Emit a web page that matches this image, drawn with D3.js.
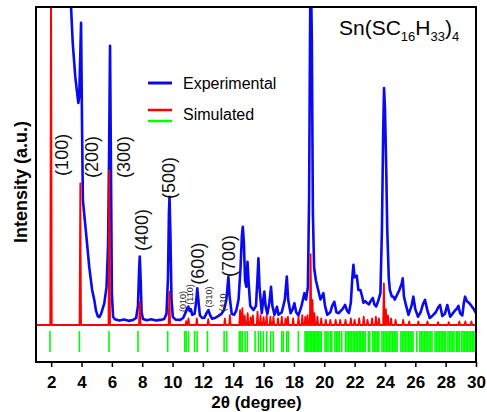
<!DOCTYPE html>
<html><head><meta charset="utf-8">
<script src="https://cdn.jsdelivr.net/npm/d3@7"></script>
<style>
html,body{margin:0;padding:0;background:#fff;}
svg{display:block;font-family:"Liberation Sans",Arial,sans-serif;}
</style></head>
<body>
<svg id="c" width="487" height="412"></svg>
<script>
// ---------- data ----------
const xTicks = [2,4,6,8,10,12,14,16,18,20,22,24,26,28,30];

// Experimental pattern: [2theta, intensity]
const experimental = [
 [3.20,112],[3.31,100],[3.42,88.7],[3.59,78],[3.79,69.8],[3.85,71.7],[3.97,95],[4.04,60],[4.09,39.3],
 [4.30,28.9],[4.51,18.2],[4.70,11],[4.84,7.9],[4.95,4.6],[5.07,2.8],[5.17,2.5],[5.28,3.4],[5.36,4.6],
 [5.50,6.8],[5.65,12],[5.75,25],[5.82,55],[5.88,87.8],[5.94,50],[6.00,10],[6.08,2.6],[6.20,1.8],
 [6.50,1.4],[6.80,1.7],[7.10,1.3],[7.40,1.6],[7.60,2.2],[7.72,6],[7.80,18],[7.84,21.5],[7.90,14],
 [7.96,4],[8.05,1.9],[8.30,1.5],[8.60,1.8],[8.90,1.4],[9.20,1.6],[9.45,1.9],[9.60,3.5],[9.70,15],
 [9.76,35],[9.80,40.3],[9.86,28],[9.93,8],[10.02,2.5],[10.20,1.7],[10.50,1.6],[10.70,2.2],[10.85,3.8],
 [10.96,5.2],[11.04,5.8],[11.12,4.4],[11.20,5.0],[11.30,3.2],[11.45,3.5],[11.55,7],[11.63,11.5],
 [11.70,8],[11.80,3.0],[11.95,2.2],[12.10,2.3],[12.25,3.8],[12.36,4.7],[12.47,3.2],[12.60,2.0],
 [12.80,2.2],[13.00,2.8],[13.20,3.4],[13.40,4.8],[13.55,8],[13.68,15.2],[13.76,9],[13.90,3.5],
 [14.05,3.2],[14.20,4.5],[14.35,8],[14.48,18],[14.57,28],[14.63,30.9],[14.70,26],[14.78,14],
 [14.86,12],[14.94,19.9],[15.02,13],[15.12,6],[15.33,4.7],[15.50,6],[15.60,15],[15.66,21],
 [15.73,12],[15.88,3.7],[15.98,8],[16.05,10.5],[16.13,6],[16.25,3.5],[16.38,7],[16.49,12],
 [16.58,6],[16.72,3.2],[16.88,5.7],[16.98,3.2],[17.20,4],[17.40,8],[17.53,15.2],[17.62,8],
 [17.78,3.7],[17.92,5],[18.03,6.8],[18.15,4],[18.30,3],[18.50,6],[18.69,10],[18.80,8],[18.92,12],
 [19.00,40],[19.06,90],[19.10,115],[19.18,90],[19.25,35],[19.33,18],[19.45,14],[19.60,11],
 [19.75,8],[19.94,10],[20.05,6],[20.20,3.2],[20.40,4],[20.52,6],[20.66,7.3],[20.80,4],[20.95,3.7],
 [21.10,4.5],[21.20,5],[21.37,6.3],[21.50,4.5],[21.62,3.8],[21.75,7],[21.85,15],[21.92,18.9],
 [22.00,15],[22.14,15.5],[22.25,11],[22.38,11],[22.50,8.9],[22.58,7],[22.70,7.5],[22.80,7],
 [22.95,6.5],[23.05,7.5],[23.20,8.5],[23.30,6.5],[23.42,5.8],[23.55,7.5],[23.70,10],[23.80,30],
 [23.88,60],[23.94,74.5],[24.00,68],[24.08,50],[24.15,30],[24.25,15],[24.32,11],[24.45,9],
 [24.55,8.9],[24.65,8],[24.80,9.5],[24.95,11],[25.10,13],[25.17,14.7],[25.25,9],[25.38,6.3],
 [25.55,3.2],[25.75,6],[25.87,8.9],[26.00,5],[26.18,2.6],[26.35,4],[26.50,6.5],[26.64,7.9],
 [26.80,4.5],[26.95,2.2],[27.15,3],[27.35,4],[27.50,5.5],[27.63,6.3],[27.78,2.8],[27.95,3.5],
 [28.11,6.3],[28.30,2.6],[28.45,3.5],[28.60,4.5],[28.72,5],[28.84,6],[28.95,3.7],[29.10,3],
 [29.20,7],[29.28,8.9],[29.40,7.5],[29.55,6.9],[29.70,6],[29.85,5],[30.00,3.7]
];

// Simulated pattern peaks: [2theta, intensity]
const simulatedPeaks = [
 [1.99,115],[3.92,44.5],[5.83,48.7],[7.84,7.3],[9.79,10.5],[10.90,1.2],[11.05,2.1],[11.60,2.1],
 [12.35,1.8],[13.45,2.0],[13.78,3.1],[14.45,4.7],[14.60,5.3],[14.75,3.0],[14.95,3.7],[15.15,2.5],
 [15.30,3.0],[15.60,4.2],[15.80,3.0],[16.00,2.5],[16.20,3.1],[16.45,2.6],[16.65,2.6],[16.95,2.1],
 [17.20,2.6],[17.45,2.1],[17.60,2.6],[17.95,2.1],[18.30,2.6],[18.55,3.1],[18.75,2.6],[18.90,3.1],
 [19.10,22.3],[19.22,7.9],[19.35,3.7],[19.55,2.6],[19.80,2.1],[20.10,1.6],[20.40,1.6],[20.75,1.6],
 [21.05,1.6],[21.40,1.6],[21.75,2.1],[22.00,1.6],[22.30,2.1],[22.60,2.6],[22.85,1.6],[23.15,2.1],
 [23.40,2.6],[23.60,2.1],[23.93,13.1],[24.06,5.0],[24.20,3.0],[24.40,2.1],[24.70,1.6],[25.20,1.6],
 [25.60,1.1],[26.20,1.1],[26.80,1.1],[27.50,0.9],[28.20,0.9],[28.90,1.1],[29.30,1.1],[29.70,1.1]
];

// Reflection positions (green ticks)
const reflections = [
 1.92,3.86,5.81,7.72,9.68,10.80,10.90,11.05,11.45,11.62,12.30,13.40,13.57,
 14.40,14.50,14.60,14.78,14.93,15.44,15.66,15.81,15.99,16.21,16.47,16.64,17.20,17.30,17.53,17.63,18.29,
 18.73,18.82,18.91,19.00,19.09,19.18,19.27,19.36,19.45,19.54,19.63,19.72,19.81,
 20.05,20.15,20.25,20.40,20.50,20.70,20.80,20.90,21.00,21.15,
 21.40,21.50,21.60,21.70,21.80,21.90,22.00,22.10,22.20,22.30,22.40,22.50,22.60,22.70,
 22.90,23.00,23.20,23.30,23.40,23.50,23.60,23.80,23.90,24.00,24.10,24.20,24.30,24.40,
 24.50,24.60,24.70,24.80,25.05,25.15,25.25,25.35,25.45,25.55,25.65,25.75,25.85,
 26.10,26.30,26.40,26.50,26.60,26.70,26.80,26.90,27.00,27.10,27.30,27.40,27.50,27.60,
 27.70,27.80,27.90,28.00,28.15,28.25,28.35,28.45,28.55,28.70,28.80,28.90,29.05,29.15,
 29.25,29.35,29.45,29.55,29.65,29.75,29.85,29.95
];

// Peak labels: [text, 2theta, intensity]
const bigLabels = [
 ["(100)",2.71,53.5],["(200)",4.66,52.8],["(300)",6.80,52.8],["(400)",7.95,29.9],
 ["(500)",9.73,46.2],["(600)",11.68,19.3],["(700)",13.72,21.7]
];
const smallLabels = [
 ["(010)",10.66,7.4],["(110)",11.15,9.6],["(310)",12.37,8.8],["(410",13.29,7.1]
];
const legendItems = ["Experimental","Simulated"];

// ---------- drawing ----------
const svg = d3.select("#c");
const L=36,R=476,T=7,B=362;
const x = d3.scaleLinear().domain([1,30]).range([L,R]);
const y = d3.scaleLinear().domain([-11.64,100]).range([B,T]);

svg.append("defs").append("clipPath").attr("id","clip")
  .append("rect").attr("x",L).attr("y",T).attr("width",R-L).attr("height",B-T);

const g = svg.append("g").attr("clip-path","url(#clip)");

// reflection ticks
g.append("g").selectAll("line").data(reflections).join("line")
  .attr("x1",d=>x(d)).attr("x2",d=>x(d))
  .attr("y1",y(-1.9)).attr("y2",y(-8.5))
  .attr("stroke","#00ff00").attr("stroke-width",1.6);

// labels (under curves)
svg.append("g").selectAll("text").data(bigLabels).join("text")
  .attr("transform",d=>`translate(${x(d[1])},${y(d[2])}) rotate(-90)`)
  .attr("text-anchor","middle").attr("dy","0.35em")
  .style("font-size","18px").attr("fill","#111").text(d=>d[0]);
svg.append("g").selectAll("text").data(smallLabels).join("text")
  .attr("transform",d=>`translate(${x(d[1])},${y(d[2])}) rotate(-90)`)
  .attr("text-anchor","middle").attr("dy","0.35em")
  .style("font-size","9px").attr("fill","#222").text(d=>d[0]);

// experimental
const line = d3.line().x(d=>x(d[0])).y(d=>y(d[1]));
g.append("path").datum(experimental).attr("d",line)
  .attr("fill","none").attr("stroke","#0a0aee").attr("stroke-width",2.6)
  .attr("stroke-linejoin","round");

// simulated: baseline through narrow peaks
const simPts = [[1,0]];
simulatedPeaks.forEach(p=>{ simPts.push([p[0]-0.05,0],[p[0],p[1]],[p[0]+0.05,0]); });
simPts.push([30,0]);
g.append("path").datum(simPts).attr("d",line)
  .attr("fill","none").attr("stroke","#ff0000").attr("stroke-width",1.8)
  .attr("stroke-linejoin","round");

// frame
svg.append("rect").attr("x",L).attr("y",T).attr("width",R-L).attr("height",B-T)
  .attr("fill","none").attr("stroke","#000").attr("stroke-width",2);

// x axis
const ax = svg.append("g").attr("transform",`translate(0,${B})`)
  .call(d3.axisBottom(x).tickValues(xTicks).tickFormat(d3.format("d")).tickSize(5).tickPadding(9));
ax.select(".domain").remove();
ax.selectAll(".tick line").attr("stroke","#000").attr("stroke-width",1.5);
ax.selectAll("text").style("font-size","17px").style("font-weight","bold")
  .style("font-family","'Liberation Sans',Arial,sans-serif").attr("fill","#000");

svg.append("text").attr("x",256.5).attr("y",408).attr("text-anchor","middle")
  .style("font-size","17px").style("font-weight","bold").text("2θ (degree)");
svg.append("text").attr("transform","translate(27,182) rotate(-90)").attr("text-anchor","middle")
  .style("font-size","18px").style("font-weight","bold").text("Intensity (a.u.)");

// legend
const lg = svg.append("g");
lg.append("line").attr("x1",148).attr("x2",172).attr("y1",83).attr("y2",83)
  .attr("stroke","#0a0aee").attr("stroke-width",3);
lg.append("text").attr("x",183).attr("y",89).style("font-size","16px").text(legendItems[0]);
lg.append("line").attr("x1",148).attr("x2",172).attr("y1",110).attr("y2",110)
  .attr("stroke","#ff0000").attr("stroke-width",2.5);
lg.append("line").attr("x1",148).attr("x2",172).attr("y1",121).attr("y2",121)
  .attr("stroke","#00ff00").attr("stroke-width",2.5);
lg.append("text").attr("x",183).attr("y",120).style("font-size","16px").text(legendItems[1]);

// title
const tt = svg.append("text").attr("x",339).attr("y",35).style("font-size","21px");
tt.append("tspan").text("Sn(SC");
tt.append("tspan").attr("dy",6).style("font-size","13px").text("16");
tt.append("tspan").attr("dy",-6).text("H");
tt.append("tspan").attr("dy",6).style("font-size","13px").text("33");
tt.append("tspan").attr("dy",-6).text(")");
tt.append("tspan").attr("dy",6).style("font-size","13px").text("4");
</script>
</body></html>
